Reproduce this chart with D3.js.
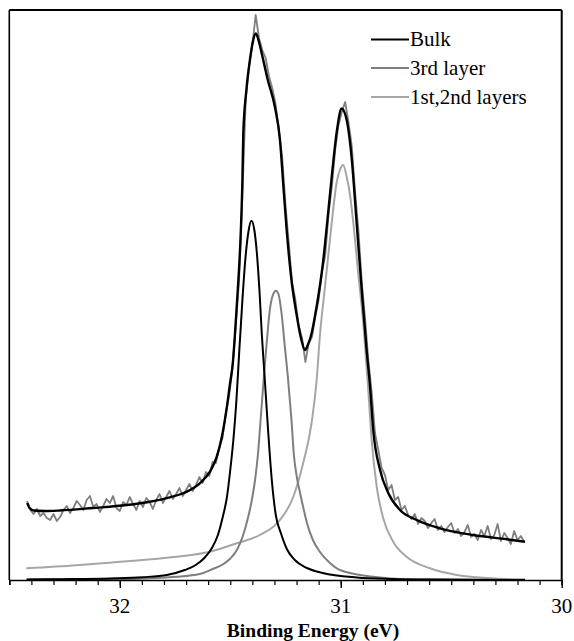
<!DOCTYPE html>
<html>
<head>
<meta charset="utf-8">
<script src="https://cdn.jsdelivr.net/npm/d3@7/dist/d3.min.js"></script>
<style>
  html, body { margin: 0; padding: 0; background: #fff; }
  svg { display: block; }
  svg text { font-family: "Liberation Serif", "Times New Roman", "DejaVu Serif", serif; }
</style>
</head>
<body>
<svg id="chart" width="574" height="641"></svg>
<script>
// ---------- data (binding energy in eV, intensity in arbitrary units) ----------
const majorTicks = [32, 31, 30];
const majorTickLabels = ["32", "31", "30"];
const xTitle = "Binding Energy (eV)";
const legendNames = ["Bulk", "3rd layer", "1st,2nd layers"];

// measured spectrum (noisy)
const spectrum = [
[32.420,79],[32.405,70],[32.390,66],[32.375,71],[32.360,64],[32.345,67],[32.330,62],[32.315,60],[32.300,66],[32.285,59],
[32.270,63],[32.255,70],[32.240,74],[32.225,67],[32.210,72],[32.195,79],[32.180,75],[32.165,70],[32.150,80],[32.135,84],
[32.120,73],[32.105,76],[32.090,68],[32.075,74],[32.060,81],[32.045,77],[32.030,84],[32.015,72],[32.000,69],[31.985,78],
[31.970,75],[31.955,83],[31.940,76],[31.925,70],[31.910,79],[31.895,73],[31.880,82],[31.865,78],[31.850,71],[31.835,80],
[31.820,86],[31.805,77],[31.790,83],[31.775,89],[31.760,81],[31.745,86],[31.730,92],[31.715,84],[31.700,90],[31.685,96],
[31.670,89],[31.655,95],[31.640,103],[31.625,97],[31.610,108],[31.595,104],[31.580,118],[31.565,117],[31.550,132],[31.535,142],
[31.520,168],[31.505,184],[31.490,212],[31.475,254],[31.460,300],[31.445,385],[31.430,480],[31.415,514],[31.400,535],[31.385,565],
[31.370,542],[31.355,530],[31.340,522],[31.325,504],[31.310,492],[31.295,476],[31.280,450],[31.265,423],[31.250,375],[31.235,337],
[31.220,297],[31.205,280],[31.190,254],[31.175,242],[31.160,218],[31.145,237],[31.130,243],[31.115,264],[31.100,280],[31.085,308],
[31.070,325],[31.055,366],[31.040,394],[31.025,430],[31.010,455],[30.995,468],[30.980,478],[30.965,458],[30.950,434],[30.935,388],
[30.920,350],[30.905,299],[30.890,262],[30.875,220],[30.860,188],[30.845,147],[30.830,130],[30.815,112],[30.800,105],[30.785,90],
[30.770,95],[30.755,80],[30.740,83],[30.725,70],[30.710,74],[30.695,65],[30.680,61],[30.665,66],[30.650,56],[30.635,62],
[30.620,59],[30.605,52],[30.590,57],[30.575,61],[30.560,50],[30.545,54],[30.530,48],[30.515,53],[30.500,57],[30.485,47],
[30.470,51],[30.455,44],[30.440,48],[30.425,55],[30.410,43],[30.395,46],[30.380,40],[30.365,50],[30.350,44],[30.335,54],
[30.320,41],[30.305,45],[30.290,56],[30.275,39],[30.260,47],[30.245,42],[30.230,36],[30.215,49],[30.200,40],[30.185,44],
[30.170,38]
];

// total fit (envelope incl. background)
const envelope = [
[32.419,77],[32.408,72],[32.389,69.5],[32.340,69],[32.272,69.5],[32.122,72],[31.968,75],[31.864,78.3],[31.774,82.7],
[31.697,88.3],[31.638,96.7],[31.592,108.3],[31.561,123.3],[31.538,143.3],[31.515,173.3],[31.502,195],[31.488,218],
[31.479,245],[31.466,290],[31.452,350],[31.445,400],[31.441,447],[31.427,490],[31.411,520],[31.398,538],[31.384,546.5],
[31.370,538],[31.357,526],[31.330,500],[31.298,473],[31.275,440],[31.260,395],[31.244,348],[31.223,300],[31.201,267],
[31.178,240],[31.162,230],[31.149,235],[31.135,244],[31.108,275],[31.081,316],[31.058,365],[31.040,405],[31.017,450],
[30.996,471.5],[30.973,460],[30.951,423],[30.928,357],[30.905,290],[30.883,230],[30.868,195],[30.853,150],[30.822,110],
[30.785,87],[30.732,70],[30.656,60],[30.551,51.7],[30.400,45],[30.249,40.7],[30.166,38.3]
];

// bulk component
const bulk = [
[32.421,0.4],[32.272,0.8],[32.045,1.6],[31.896,2.8],[31.787,5],[31.706,10],[31.660,14.5],[31.615,22.5],[31.583,32],
[31.556,45],[31.534,63],[31.515,83],[31.500,110],[31.486,140],[31.472,180],[31.459,230],[31.445,280],[31.432,320],
[31.418,348],[31.404,359.3],[31.391,350],[31.380,328],[31.368,290],[31.357,245],[31.343,198],[31.328,147],[31.312,100],
[31.294,65],[31.271,47],[31.244,31],[31.208,20],[31.153,12],[31.081,7],[30.927,2.5],[30.777,1],[30.596,0.4],[30.166,0]
];

// 3rd layer component
const thirdLayer = [
[32.423,0.5],[32.045,0.7],[31.742,3.3],[31.638,6],[31.579,11],[31.538,15],[31.502,21],[31.470,30],[31.443,44],
[31.420,62],[31.404,78],[31.389,98],[31.375,125],[31.361,165],[31.348,203],[31.334,240],[31.321,270],[31.307,285],
[31.293,289.3],[31.282,286],[31.268,267],[31.253,233.3],[31.238,200],[31.223,160],[31.212,125],[31.198,102],[31.185,88],
[31.167,70],[31.153,57],[31.126,40],[31.094,28],[31.049,17],[31.004,10],[30.854,3.3],[30.700,0.7],[30.166,0]
];

// 1st,2nd layers component
const firstSecond = [
[32.423,11.7],[32.196,14.7],[32.045,17.3],[31.894,20],[31.743,23.3],[31.592,28.3],[31.470,36.7],[31.366,45],[31.275,60],
[31.215,83],[31.170,117],[31.132,157],[31.109,200],[31.094,245],[31.072,292],[31.049,340],[31.036,367],[31.019,397],
[31.004,410],[30.989,415],[30.973,403],[30.958,385],[30.943,357],[30.921,307],[30.898,257],[30.877,195],[30.860,140],
[30.837,93],[30.808,62],[30.762,38],[30.702,23.3],[30.596,11.7],[30.475,5],[30.324,1.7],[30.166,0.7]
];

// ---------- drawing ----------
(function () {
const svg = d3.select("#chart");
const pL = 9.3, pR = 561.7, pT = 10, pB = 580;
const x = d3.scaleLinear().domain([32.5, 30]).range([pL, pR]);
const y = d3.scaleLinear().domain([0, 570]).range([pB, pT]);

const smooth = d3.line().x(d => x(d[0])).y(d => y(d[1])).curve(d3.curveMonotoneX);
const raw = d3.line().x(d => x(d[0])).y(d => y(d[1])).curve(d3.curveLinear);

const g = svg.append("g");

// measured data
g.append("path").attr("d", raw(spectrum)).attr("fill", "none")
  .attr("stroke", "#7f7f7f").attr("stroke-width", 1.8).attr("stroke-linejoin", "round");

// components
g.append("path").attr("d", smooth(firstSecond)).attr("fill", "none")
  .attr("stroke", "#a6a6a6").attr("stroke-width", 2);
g.append("path").attr("d", smooth(thirdLayer)).attr("fill", "none")
  .attr("stroke", "#7f7f7f").attr("stroke-width", 2);
g.append("path").attr("d", smooth(bulk)).attr("fill", "none")
  .attr("stroke", "#000").attr("stroke-width", 2);

// envelope
g.append("path").attr("d", smooth(envelope)).attr("fill", "none")
  .attr("stroke", "#000").attr("stroke-width", 2.4).attr("stroke-linejoin", "round");

// frame (top, left, right)
svg.append("line").attr("x1", pL).attr("x2", pR).attr("y1", pT).attr("y2", pT)
  .attr("stroke", "#000").attr("stroke-width", 2);
svg.append("line").attr("x1", pL).attr("x2", pL).attr("y1", pT).attr("y2", pB)
  .attr("stroke", "#000").attr("stroke-width", 1.6);
svg.append("line").attr("x1", pR).attr("x2", pR).attr("y1", pT).attr("y2", pB)
  .attr("stroke", "#000").attr("stroke-width", 2);

// x axis: minor ticks every 0.1 eV
const minorTicks = d3.range(300, 326, 1).map(v => v / 10);
const minorAxis = d3.axisBottom(x).tickValues(minorTicks).tickSize(5).tickFormat("");
const axG = svg.append("g").attr("transform", `translate(0,${pB})`).call(minorAxis);
axG.select(".domain").attr("stroke", "#000").attr("stroke-width", 1.6);
axG.selectAll(".tick line").attr("stroke", "#000").attr("stroke-width", 1.2);

const majorAxis = d3.axisBottom(x).tickValues(majorTicks).tickSize(8).tickFormat("");
const majG = svg.append("g").attr("transform", `translate(0,${pB})`).call(majorAxis);
majG.select(".domain").remove();
majG.selectAll(".tick line").attr("stroke", "#000").attr("stroke-width", 1.4);

// tick labels
svg.selectAll("text.tl").data(majorTicks).enter().append("text")
  .attr("class", "tl")
  .attr("x", d => x(d)).attr("y", 613)
  .attr("text-anchor", "middle")
  .attr("font-size", 21).attr("fill", "#000")
  .text((d, i) => majorTickLabels[i]);

// axis title
svg.append("text").attr("x", 313).attr("y", 637).attr("text-anchor", "middle")
  .attr("font-size", 19.5).attr("font-weight", "bold").attr("fill", "#000")
  .text(xTitle);

// legend
const legendColors = ["#000", "#7f7f7f", "#a6a6a6"];
const legendY = [39.5, 68, 97];
const lg = svg.append("g");
legendNames.forEach((name, i) => {
  lg.append("line").attr("x1", 371).attr("x2", 409).attr("y1", legendY[i]).attr("y2", legendY[i])
    .attr("stroke", legendColors[i]).attr("stroke-width", 2.2);
  lg.append("text").attr("x", 410).attr("y", legendY[i] + 6.8)
    .attr("font-size", 21).attr("fill", "#000").text(name);
});
})();
</script>
</body>
</html>
